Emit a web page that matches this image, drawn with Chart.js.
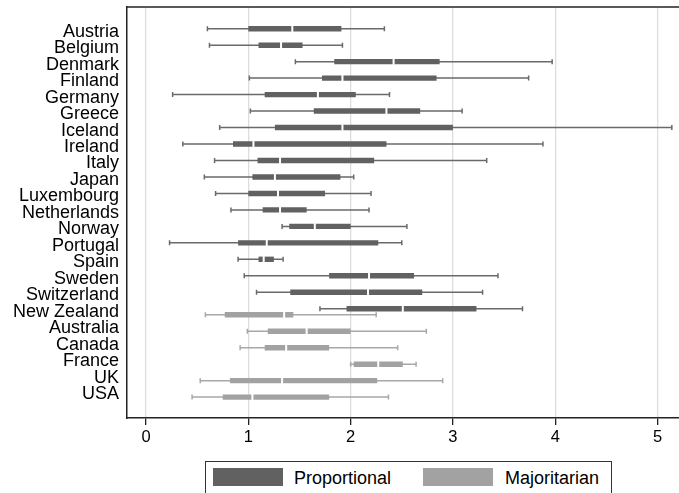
<!DOCTYPE html>
<html>
<head>
<meta charset="utf-8">
<script src="https://cdn.jsdelivr.net/npm/chart.js@4"></script>
<style>
  body { margin: 0; background: #fff; overflow: hidden; }
  #wrap { position: relative; width: 679px; height: 493px; overflow: hidden; }
  #legend {
    position: absolute; left: 205px; top: 461px; width: 405px; height: 40px;
    border: 1px solid #333; background: #fff;
    font-family: "Liberation Sans", Arial, sans-serif; font-size: 18px; color: #000;
  }
  #legend .sw { position: absolute; top: 6px; width: 70px; height: 18px; }
  #legend .lb { position: absolute; top: 7px; line-height: 18px; white-space: nowrap; }
</style>
</head>
<body>
<div id="wrap">
  <canvas id="boxChart" width="679" height="493"></canvas>
  <div id="legend">
    <div class="sw" style="left:7px;background:#616161"></div>
    <span class="lb" style="left:88px">Proportional</span>
    <div class="sw" style="left:217px;background:#a2a2a2"></div>
    <span class="lb" style="left:299px">Majoritarian</span>
  </div>
</div>
<script>
const countries = ['Austria', 'Belgium', 'Denmark', 'Finland', 'Germany', 'Greece', 'Iceland',
  'Ireland', 'Italy', 'Japan', 'Luxembourg', 'Netherlands', 'Norway', 'Portugal', 'Spain',
  'Sweden', 'Switzerland', 'New Zealand', 'Australia', 'Canada', 'France', 'UK', 'USA'];

// proportional systems
const propCountries = ['Austria', 'Belgium', 'Denmark', 'Finland', 'Germany', 'Greece', 'Iceland',
  'Ireland', 'Italy', 'Japan', 'Luxembourg', 'Netherlands', 'Norway', 'Portugal', 'Spain',
  'Sweden', 'Switzerland', 'New Zealand'];
const propMin = [0.60, 0.62, 1.46, 1.01, 0.26, 1.02, 0.72, 0.36, 0.67, 0.57, 0.68, 0.83, 1.33, 0.23, 0.90, 0.96, 1.08, 1.70];
const propQ1  = [1.00, 1.10, 1.84, 1.72, 1.16, 1.64, 1.26, 0.85, 1.09, 1.04, 1.00, 1.14, 1.40, 0.90, 1.10, 1.79, 1.41, 1.96];
const propMed = [1.43, 1.32, 2.42, 1.92, 1.68, 2.35, 1.92, 1.05, 1.31, 1.26, 1.29, 1.31, 1.65, 1.18, 1.15, 2.18, 2.17, 2.51];
const propQ3  = [1.91, 1.53, 2.87, 2.84, 2.05, 2.68, 3.00, 2.35, 2.23, 1.90, 1.75, 1.57, 2.00, 2.27, 1.25, 2.62, 2.70, 3.23];
const propMax = [2.33, 1.92, 3.97, 3.74, 2.38, 3.09, 5.14, 3.88, 3.33, 2.03, 2.20, 2.18, 2.55, 2.50, 1.34, 3.44, 3.29, 3.68];

// majoritarian systems
const majCountries = ['New Zealand', 'Australia', 'Canada', 'France', 'UK', 'USA'];
const majMin = [0.58, 0.99, 0.92, 2.00, 0.53, 0.45];
const majQ1  = [0.77, 1.19, 1.16, 2.03, 0.82, 0.75];
const majMed = [1.35, 1.57, 1.37, 2.27, 1.33, 1.04];
const majQ3  = [1.44, 2.00, 1.79, 2.51, 2.26, 1.79];
const majMax = [2.25, 2.74, 2.46, 2.64, 2.90, 2.37];

const xTicks = [0, 1, 2, 3, 4, 5];

const makeBoxes = (names, mins, q1, med, q3, maxs) =>
  names.map((n, i) => ({
    y: countries.indexOf(n),
    x: [q1[i], q3[i]],
    min: mins[i], med: med[i], max: maxs[i]
  }));

// whiskers under the boxes, white median line on top
const boxPlugin = {
  id: 'boxPlugin',
  beforeDatasetsDraw(chart) {
    const ctx = chart.ctx;
    const xs = chart.scales.x;
    ctx.save();
    chart.data.datasets.forEach((ds, i) => {
      chart.getDatasetMeta(i).data.forEach((bar, j) => {
        const d = ds.data[j];
        const x1 = xs.getPixelForValue(d.min);
        const x2 = xs.getPixelForValue(d.max);
        ctx.strokeStyle = ds.whiskerColor;
        ctx.lineWidth = 1.5;
        ctx.beginPath();
        ctx.moveTo(x1, bar.y); ctx.lineTo(x2, bar.y);
        ctx.moveTo(x1, bar.y - 2.5); ctx.lineTo(x1, bar.y + 2.5);
        ctx.moveTo(x2, bar.y - 2.5); ctx.lineTo(x2, bar.y + 2.5);
        ctx.stroke();
      });
    });
    ctx.restore();
  },
  afterDatasetsDraw(chart) {
    const ctx = chart.ctx;
    const xs = chart.scales.x;
    ctx.save();
    ctx.fillStyle = '#ffffff';
    chart.data.datasets.forEach((ds, i) => {
      chart.getDatasetMeta(i).data.forEach((bar, j) => {
        const xm = xs.getPixelForValue(ds.data[j].med);
        ctx.fillRect(xm - 1, bar.y - bar.height / 2 - 0.5, 2, bar.height + 1);
      });
    });
    // top frame line
    const a = chart.chartArea;
    ctx.strokeStyle = '#222';
    ctx.lineWidth = 1.5;
    ctx.beginPath();
    ctx.moveTo(a.left, a.top); ctx.lineTo(a.right, a.top);
    ctx.stroke();
    ctx.restore();
  }
};

new Chart(document.getElementById('boxChart'), {
  type: 'bar',
  data: {
    datasets: [
      {
        label: 'Proportional',
        data: makeBoxes(propCountries, propMin, propQ1, propMed, propQ3, propMax),
        backgroundColor: '#616161',
        whiskerColor: '#6a6a6a'
      },
      {
        label: 'Majoritarian',
        data: makeBoxes(majCountries, majMin, majQ1, majMed, majQ3, majMax),
        backgroundColor: '#a2a2a2',
        whiskerColor: '#a8a8a8'
      }
    ]
  },
  options: {
    indexAxis: 'y',
    responsive: false,
    animation: false,
    categoryPercentage: 0.73,
    barPercentage: 0.9,
    layout: { padding: { top: 7, right: 0, left: 0, bottom: 0 } },
    plugins: { legend: { display: false }, tooltip: { enabled: false } },
    scales: {
      y: {
        type: 'linear',
        reverse: true,
        offset: false,
        min: -1.5,
        max: 23.45,
        afterFit: s => { s.width = 127; s.paddingTop = 0; s.paddingBottom = 0; },
        afterBuildTicks: s => { s.ticks = countries.map((c, i) => ({ value: i })); },
        grid: { display: false, drawTicks: false, offset: false },
        border: { display: true, color: '#222', width: 1.5 },
        ticks: {
          autoSkip: false,
          padding: 8,
          color: '#000',
          font: { family: 'Liberation Sans', size: 18 },
          callback: v => countries[v]
        }
      },
      x: {
        type: 'linear',
        min: -0.186,
        max: 5.21,
        afterFit: s => { s.height = 75; s.paddingLeft = 0; s.paddingRight = 0; },
        afterBuildTicks: s => { s.ticks = xTicks.map(v => ({ value: v })); },
        grid: { color: '#dddddd', lineWidth: 1.3, tickColor: '#222', tickLength: 7 },
        border: { display: true, color: '#222', width: 1.5 },
        ticks: {
          padding: 3,
          color: '#000',
          font: { family: 'Liberation Sans', size: 16.5 }
        }
      }
    }
  },
  plugins: [boxPlugin]
});
</script>
</body>
</html>
